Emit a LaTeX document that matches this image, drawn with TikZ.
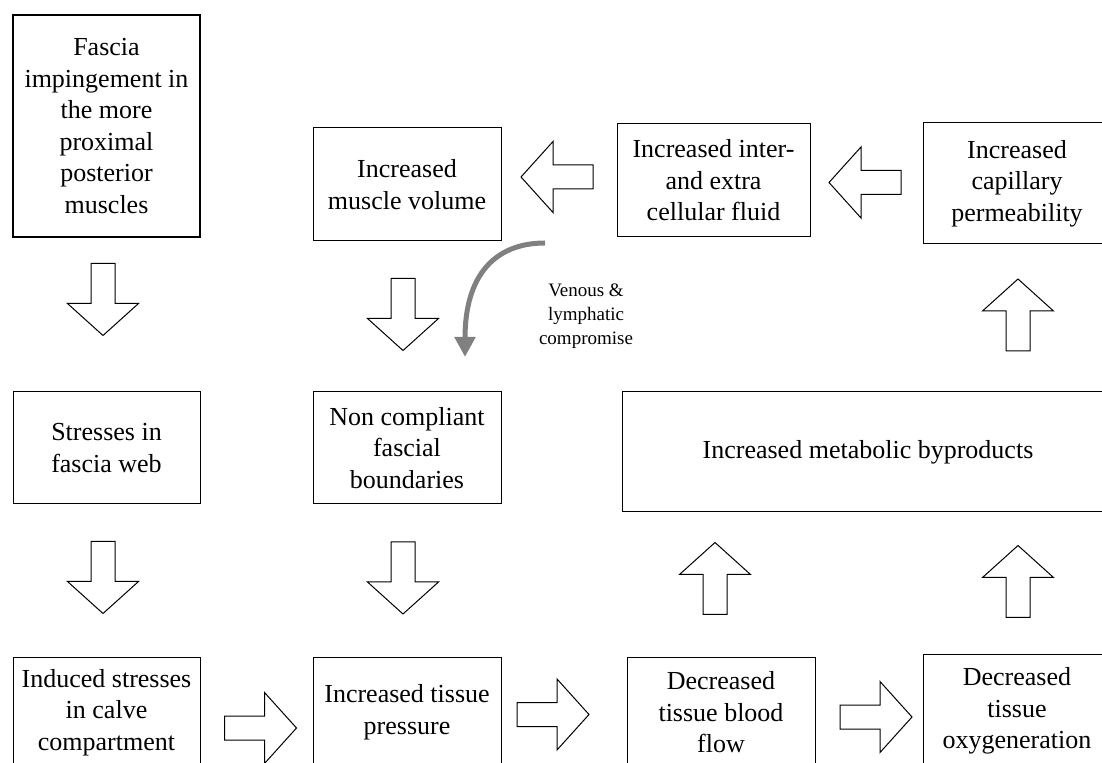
\documentclass[tikz,border=0pt]{standalone}
\usepackage{fontspec}
\setmainfont{Liberation Serif}
\usetikzlibrary{arrows.meta}

\begin{document}
\begin{tikzpicture}[x=0.5pt,y=-0.5pt,
  box/.style={draw,line width=0.5pt,align=center,inner sep=0pt,minimum width=94pt,minimum height=56pt,font=\fontsize{13}{15.8}\selectfont},
  start box/.style={box,line width=1.4pt},
  note/.style={align=center,inner sep=0pt,font=\fontsize{9.5}{12}\selectfont},
  blockarrow/.pic={\filldraw[draw=black,fill=white,line width=0.5pt] (-36,-12) -- (4,-12) -- (4,-35.5) -- (36,0) -- (4,35.5) -- (4,12) -- (-36,12) -- cycle;}]
\clip (0,0) rectangle (1102,763);

% top row
\node[start box,minimum width=93.5pt,minimum height=111pt] (fascia) at (106.5,126) {Fascia\\impingement in\\the more\\proximal\\posterior\\muscles};
\node[box,minimum height=56.5pt] (muscle) at (407,184.5) {Increased\\muscle volume};
\node[box,minimum width=96.5pt,minimum height=56.5pt] (fluid) at (713.5,180.5) {Increased inter-\\and extra\\cellular fluid};
\node[box,minimum height=60.5pt] (capillary) at (1017,183.5) {Increased\\capillary\\permeability};

% middle row
\node[box,minimum width=93.5pt] (stresses) at (106.5,448) {Stresses in\\fascia web};
\node[box] (boundaries) at (407,448) {Non compliant\\fascial\\boundaries};
\node[box,minimum width=246pt,minimum height=60pt] (byproducts) at (868,452) {Increased metabolic byproducts};

% bottom row
\node[box,minimum width=93.5pt,minimum height=55.5pt] (calve) at (106.5,712.5) {Induced stresses\\in calve\\compartment};
\node[box,minimum height=55.5pt] (pressure) at (407,712.5) {Increased tissue\\pressure};
\node[box,minimum height=55.5pt] (bloodflow) at (721,712.5) {Decreased\\tissue blood\\flow};
\node[box,minimum height=57pt] (oxygen) at (1017,711) {Decreased\\tissue\\oxygeneration};

% block arrows
\foreach \x/\y in {103/299.5, 103/577.5, 403/314.5, 403/578}
  \pic[rotate=-90] at (\x,\y) {blockarrow};
\foreach \x/\y in {715/578.5, 1018/581.5, 1018/315}
  \pic[rotate=90] at (\x,\y) {blockarrow};
\foreach \x/\y in {557/177, 865/182.5}
  \pic[rotate=180] at (\x,\y) {blockarrow};
\foreach \x/\y in {260.5/728, 553/714.5, 876/717}
  \pic at (\x,\y) {blockarrow};

% venous and lymphatic path
\coordinate (venstart) at (545,243);
\coordinate (venend) at (465,357);
\draw[gray,line width=2.5pt,-{Triangle[width=10pt,length=10pt]}] (venstart) .. controls (495,243) and (465,275) .. (venend);
\node[note] (venous) at (586,316) {Venous \&\\lymphatic\\compromise};

\end{tikzpicture}
\end{document}
